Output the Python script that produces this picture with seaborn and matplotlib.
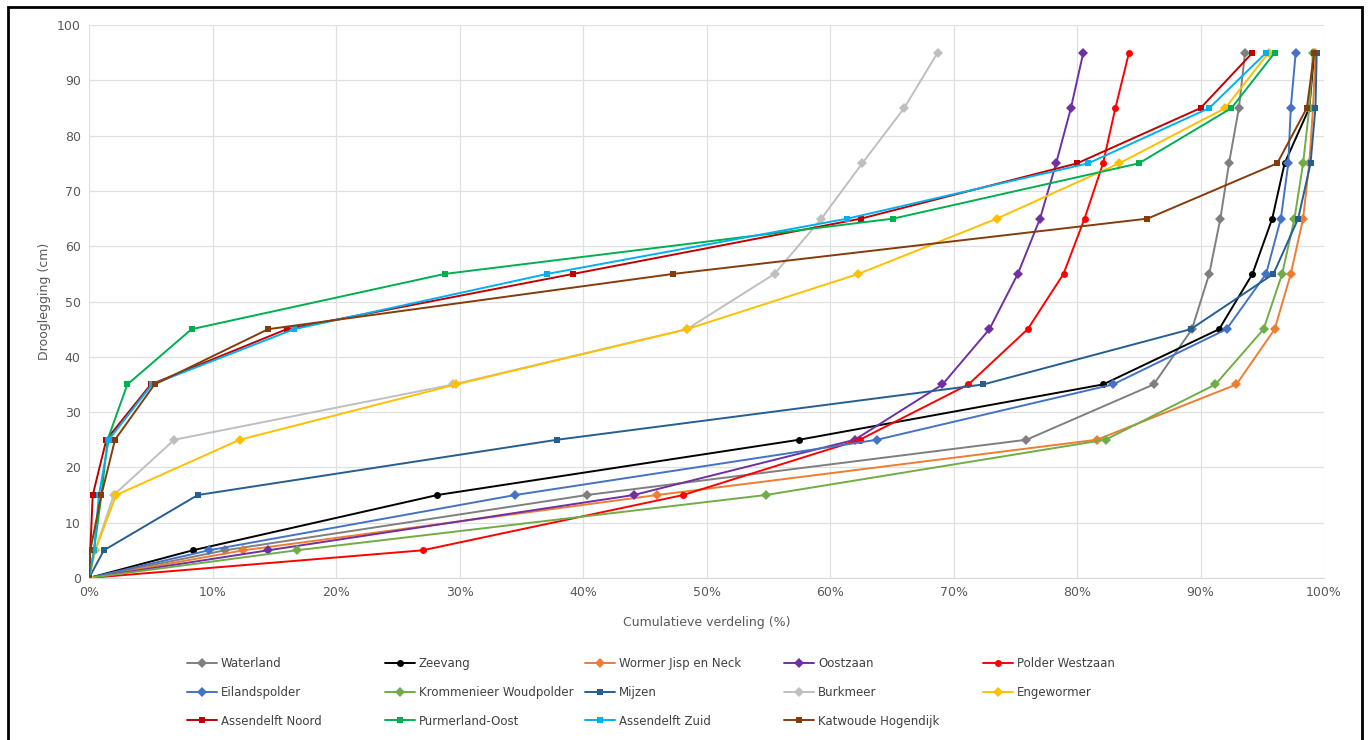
import pandas as pd
import matplotlib
matplotlib.use("Agg")
import matplotlib.pyplot as plt
import seaborn as sns
from matplotlib.patches import Rectangle

# drooglegging classes (cm)
depth = [0, 5, 15, 25, 35, 45, 55, 65, 75, 85, 95]

# cumulative share (%) per polder
waterland = [0, 11.0, 40.3, 75.9, 86.2, 89.3, 90.7, 91.6, 92.3, 93.1, 93.6]
zeevang = [0, 8.4, 28.2, 57.5, 82.1, 91.5, 94.2, 95.8, 96.8, 98.8, 99.2]
wormer = [0, 12.5, 46.0, 81.6, 92.9, 96.0, 97.3, 98.3, 98.8, 99.1, 99.3]
oostzaan = [0, 14.5, 44.1, 62.0, 69.1, 72.9, 75.2, 77.0, 78.3, 79.5, 80.5]
polder_westzaan = [0, 27.0, 48.1, 62.4, 71.2, 76.0, 78.9, 80.6, 82.1, 83.1, 84.2]
eilandspolder = [0, 9.7, 34.5, 63.8, 82.9, 92.1, 95.3, 96.5, 97.1, 97.3, 97.7]
krommenieer = [0, 16.8, 54.8, 82.3, 91.2, 95.1, 96.6, 97.6, 98.3, 98.8, 99.1]
mijzen = [0, 1.2, 8.8, 37.9, 72.4, 89.2, 95.9, 97.9, 98.9, 99.3, 99.4]
burkmeer = [0, 0.5, 2.0, 6.9, 29.5, 48.4, 55.5, 59.3, 62.6, 66.0, 68.7]
engewormer = [0, 0.5, 2.2, 12.2, 29.7, 48.4, 62.3, 73.5, 83.4, 92.0, 95.5]
assendelft_noord = [0, 0.1, 0.3, 1.4, 5.0, 16.0, 39.2, 62.5, 80.0, 90.0, 94.2]
purmerland_oost = [0, 0.4, 1.0, 1.5, 3.1, 8.3, 28.8, 65.1, 85.0, 92.5, 96.0]
assendelft_zuid = [0, 0.4, 0.8, 1.6, 5.1, 16.6, 37.1, 61.4, 80.9, 90.7, 95.3]
katwoude = [0, 0.1, 1.0, 2.1, 5.3, 14.5, 47.3, 85.7, 96.2, 98.6, 99.2]

names = ["Waterland", "Zeevang", "Wormer Jisp en Neck", "Oostzaan", "Polder Westzaan",
         "Eilandspolder", "Krommenieer Woudpolder", "Mijzen", "Burkmeer", "Engewormer",
         "Assendelft Noord", "Purmerland-Oost", "Assendelft Zuid", "Katwoude Hogendijk"]
values = [waterland, zeevang, wormer, oostzaan, polder_westzaan,
          eilandspolder, krommenieer, mijzen, burkmeer, engewormer,
          assendelft_noord, purmerland_oost, assendelft_zuid, katwoude]
colors = ["#7f7f7f", "#000000", "#ed7d31", "#7030a0", "#ff0000",
          "#4472c4", "#70ad47", "#255e91", "#bfbfbf", "#ffc000",
          "#c00000", "#00b050", "#00b0f0", "#843c0c"]
markers = ["D", "o", "D", "D", "o", "D", "D", "s", "D", "D", "s", "s", "s", "s"]

sns.set_style("white")
fig = plt.figure(figsize=(13.7, 7.4), dpi=100)
ax = fig.add_axes([0.065, 0.219, 0.9015, 0.747])

handles = []
for name, vals, col, mk in zip(names, values, colors, markers):
    df = pd.DataFrame({"x": vals, "y": depth})
    sns.lineplot(data=df, x="x", y="y", ax=ax, color=col, marker=mk, markersize=5,
                 markeredgewidth=0, linewidth=1.4, sort=False, estimator=None)
    handles.append(ax.lines[-1])

ax.set_xlim(0, 100)
ax.set_ylim(0, 100)
ax.set_xticks(range(0, 101, 10))
ax.set_xticklabels([f"{t}%" for t in range(0, 101, 10)])
ax.set_yticks(range(0, 101, 10))
ax.grid(True, color="#e0e0e0", linewidth=0.9)
ax.set_axisbelow(True)
for s in ["top", "right", "left"]:
    ax.spines[s].set_visible(False)
ax.spines["bottom"].set_color("#d9d9d9")
ax.tick_params(axis="both", labelsize=9, colors="#595959", length=0, pad=6)
ax.set_xlabel("Cumulatieve verdeling (%)", fontsize=9, color="#595959", labelpad=12)
ax.set_ylabel("Drooglegging (cm)", fontsize=9, color="#595959", labelpad=4)

# legend: five columns laid out row by row, like the original
col_x = [182, 380, 580, 779, 978]
for j in range(5):
    hs = handles[j::5]
    ls = names[j::5]
    fig.legend(hs, ls, loc="upper left", bbox_to_anchor=(col_x[j] / 1370, 1 - 652 / 740),
               frameon=False, fontsize=8.5, handlelength=2.6, handletextpad=0.3,
               labelspacing=1.35, borderaxespad=0, labelcolor="#404040")

fig.patches.append(Rectangle((8 / 1370, -0.02), 1354 / 1370, 1.02 - 7 / 740,
                             transform=fig.transFigure, fill=False,
                             edgecolor="black", linewidth=2))

fig.savefig("out.png", dpi=100, facecolor="white")
